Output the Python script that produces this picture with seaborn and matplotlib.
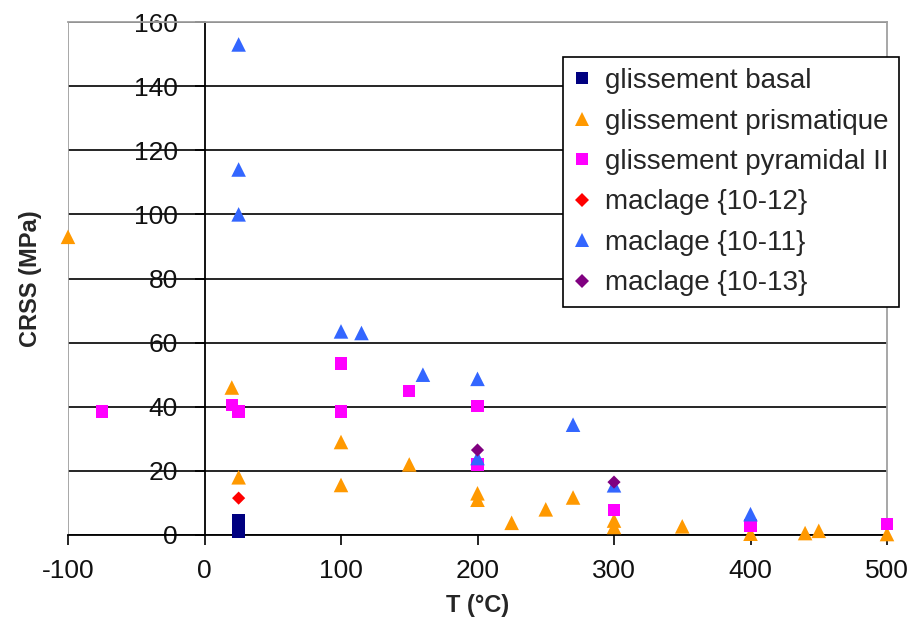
import matplotlib
matplotlib.use("Agg")
import matplotlib.pyplot as plt
import seaborn as sns
import pandas as pd
from matplotlib.lines import Line2D

# ---- data ----
series_names = ["glissement basal", "glissement prismatique", "glissement pyramidal II",
                "maclage {10-12}", "maclage {10-11}", "maclage {10-13}"]

basal_T = [25, 25, 25]
basal_CRSS = [1, 2.8, 4.7]

prism_T = [-100, 20, 25, 100, 100, 150, 200, 200, 225, 250, 270, 300, 300, 350, 400, 440, 450, 500]
prism_CRSS = [93, 46, 18, 29, 15.6, 22, 13, 11, 3.8, 8, 11.7, 4.5, 2.5, 2.7, 0.4, 0.6, 1.3, 0.3]

pyr_T = [-75, 20, 25, 100, 100, 150, 200, 200, 300, 400, 500]
pyr_CRSS = [38.5, 40.5, 38.5, 53.5, 38.5, 45, 40.3, 22, 7.8, 3, 3.4]

t1012_T = [25]
t1012_CRSS = [11.5]

t1011_T = [25, 25, 25, 100, 115, 160, 200, 200, 270, 300, 400]
t1011_CRSS = [153, 114, 100, 63.5, 63, 50, 48.7, 24, 34.4, 15.5, 6.5]

t1013_T = [200, 300]
t1013_CRSS = [26.5, 16.5]

x_ticks = [-100, 0, 100, 200, 300, 400, 500]
y_ticks = [0, 20, 40, 60, 80, 100, 120, 140, 160]

colors = ["#000080", "#FF9900", "#FF00FF", "#FF0000", "#3366FF", "#800080"]
markers = ["s", "^", "s", "D", "^", "D"]
sizes = [80, 110, 80, 45, 110, 45]

all_T = [basal_T, prism_T, pyr_T, t1012_T, t1011_T, t1013_T]
all_C = [basal_CRSS, prism_CRSS, pyr_CRSS, t1012_CRSS, t1011_CRSS, t1013_CRSS]

frames = []
for name, T, C in zip(series_names, all_T, all_C):
    frames.append(pd.DataFrame({"T": T, "CRSS": C, "serie": name}))
df = pd.concat(frames, ignore_index=True)

sns.set_theme(style="white")
plt.rcParams["font.family"] = ["Liberation Sans", "DejaVu Sans"]

fig = plt.figure(figsize=(9.13, 6.25), dpi=100)
ax = fig.add_axes([68 / 913, 1 - 535 / 625, (887 - 68) / 913, (535 - 22) / 625])

for name, col, mk, sz in zip(series_names, colors, markers, sizes):
    sub = df[df["serie"] == name]
    sns.scatterplot(data=sub, x="T", y="CRSS", ax=ax, color=col, marker=mk, s=sz,
                    linewidth=0, edgecolor="none", zorder=3, legend=False)
for coll in ax.collections:
    coll.set_clip_on(False)

ax.set_xlim(-100, 500)
ax.set_ylim(0, 160)
ax.set_xticks(x_ticks)
ax.set_yticks(y_ticks)
ax.set_xticklabels([str(v) for v in x_ticks])
ax.set_yticklabels([str(v) for v in y_ticks])

# gridlines
ax.grid(axis="y", color="black", linewidth=1.2)
ax.grid(axis="x", visible=False)
ax.set_axisbelow(True)

# spines
ax.spines["left"].set_position(("data", 0))
ax.spines["left"].set_color("black")
ax.spines["left"].set_linewidth(1.3)
ax.spines["bottom"].set_color("black")
ax.spines["bottom"].set_linewidth(1.3)
for s in ["top", "right"]:
    ax.spines[s].set_color("#A0A0A0")
    ax.spines[s].set_linewidth(1.3)
ax.axvline(-100, color="#A0A0A0", linewidth=1.3, zorder=2.5)

ax.tick_params(axis="both", direction="out", length=7, width=1.2, color="black",
               labelsize=19, labelcolor="#111111")
ax.tick_params(axis="y", pad=12, left=True)
ax.tick_params(axis="x", pad=10, bottom=True)
for lab in ax.get_yticklabels():
    lab.set_zorder(4)

ax.set_xlabel("T (°C)", fontsize=17, fontweight="bold")
ax.set_ylabel("CRSS (MPa)", fontsize=17, fontweight="bold")
ax.xaxis.set_label_coords(0.5, -0.115)
ax.yaxis.set_label_coords(-0.032, 0.5)

handles = [Line2D([], [], linestyle="none", marker=mk, color=col, markersize=ms,
                  markeredgewidth=0)
           for col, mk, ms in zip(colors, markers, [8, 9.5, 8, 7, 9.5, 7])]
leg = fig.legend(handles, series_names, loc="upper left",
                 bbox_to_anchor=(563 / 913, 1 - 57 / 625), fontsize=20,
                 frameon=True, fancybox=False, edgecolor="black", framealpha=1,
                 handlelength=0.55, handletextpad=0.55, labelspacing=0.52,
                 borderpad=0.4, borderaxespad=0)
leg.get_frame().set_linewidth(1.2)

fig.savefig("out.png", dpi=100)
